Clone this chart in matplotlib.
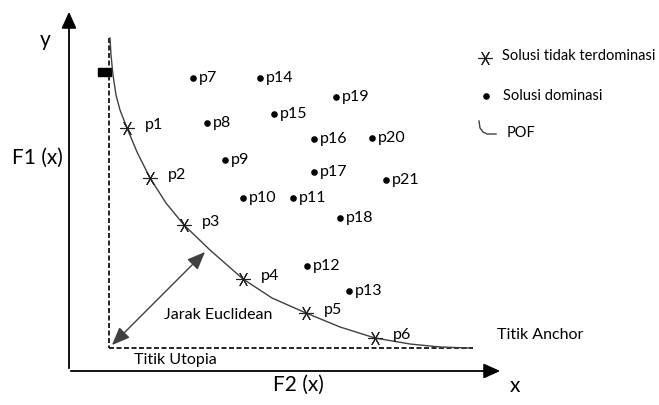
import matplotlib
matplotlib.use('Agg')
import matplotlib.pyplot as plt
import numpy as np

plt.rcParams['font.family'] = ['Lato', 'DejaVu Sans']

# non-dominated solutions (positions in picture units, y grows downward)
pareto_labels = ['p1', 'p2', 'p3', 'p4', 'p5', 'p6']
pareto_x = [127, 150, 184, 243, 306, 375]
pareto_y = [128, 178, 225, 279, 313, 338]

# dominated solutions
dom_labels = ['p7', 'p8', 'p9', 'p10', 'p11', 'p12', 'p13', 'p14',
              'p15', 'p16', 'p17', 'p18', 'p19', 'p20', 'p21']
dom_x = [193, 207, 225, 243, 293, 307, 349, 260, 274, 314, 314, 340, 336, 372, 386]
dom_y = [78, 123, 160, 198, 198, 266, 291, 78, 114, 139, 172, 218, 97, 138, 180]

# pareto optimal front
pof_x = [110, 111, 113, 116, 120, 127, 137, 150, 166, 184, 210, 243, 272, 306, 340, 375, 410, 440, 470]
pof_y = [38, 55, 75, 95, 110, 128, 152, 178, 203, 225, 250, 279, 298, 313, 327, 338, 344, 347, 348]

utopia = (109, 348)
anchor_x = 473

fig = plt.figure(figsize=(6.59, 4.05), dpi=100)
ax = fig.add_axes([0, 0, 1, 1])
ax.set_xlim(0, 659)
ax.set_ylim(405, 0)
ax.axis('off')

ast = (6, 2, 90)

# axes with arrows
ax.annotate('', xy=(69, 9), xytext=(69, 371),
            arrowprops=dict(arrowstyle='-|>,head_length=1.0,head_width=0.45', color='black', lw=1.3))
ax.annotate('', xy=(503, 371), xytext=(68, 371),
            arrowprops=dict(arrowstyle='-|>,head_length=1.0,head_width=0.45', color='black', lw=1.3))
ax.text(45, 40, 'y', fontsize=15, ha='center', va='center')
ax.text(37, 158, 'F1 (x)', fontsize=15, ha='center', va='center')
ax.text(298, 385, 'F2 (x)', fontsize=15, ha='center', va='center')
ax.text(515, 386, 'x', fontsize=15, ha='center', va='center')

# dashed guide lines
ax.plot([utopia[0], utopia[0]], [38, utopia[1]], color='black', lw=1.2, ls=(0, (3, 1.5)))
ax.plot([utopia[0], anchor_x], [utopia[1], utopia[1]], color='black', lw=1.2, ls=(0, (3, 1.5)))
ax.add_patch(plt.Rectangle((98, 68), 13, 8, color='black'))

# POF curve
ax.plot(pof_x, pof_y, color='#404040', lw=1.0)

# points
ax.scatter(pareto_x, pareto_y, marker=ast, s=100, color='#222222', linewidths=0.8, zorder=3)
for lab, x, y in zip(pareto_labels, pareto_x, pareto_y):
    ax.text(x + 18, y - 3, lab, fontsize=11.5, ha='left', va='center')
ax.scatter(dom_x, dom_y, s=14, color='black', zorder=3)
for lab, x, y in zip(dom_labels, dom_x, dom_y):
    ax.text(x + 6, y, lab, fontsize=11.5, ha='left', va='center')

# Euclidean distance arrow
ax.annotate('', xy=(207, 250), xytext=(110, 347),
            arrowprops=dict(arrowstyle='<|-|>,head_length=1.1,head_width=0.45', color='#404040', lw=1.0))
ax.text(218, 315, 'Jarak Euclidean', fontsize=11.5, ha='center', va='center')
ax.text(175, 360, 'Titik Utopia', fontsize=11.5, ha='center', va='center')
ax.text(540, 335, 'Titik Anchor', fontsize=11.5, ha='center', va='center')

# legend
ax.scatter([485], [58], marker=ast, s=100, color='#222222', linewidths=0.8)
ax.text(502, 56, 'Solusi tidak terdominasi', fontsize=10.5, ha='left', va='center')
ax.scatter([486], [96], s=14, color='black')
ax.text(503, 96, 'Solusi dominasi', fontsize=10.5, ha='left', va='center')
ax.plot([479, 480, 483, 487, 496], [121, 128, 132, 134, 134], color='#404040', lw=1.0)
ax.text(507, 133, 'POF', fontsize=10.5, ha='left', va='center')

fig.savefig('out.png', dpi=100)
